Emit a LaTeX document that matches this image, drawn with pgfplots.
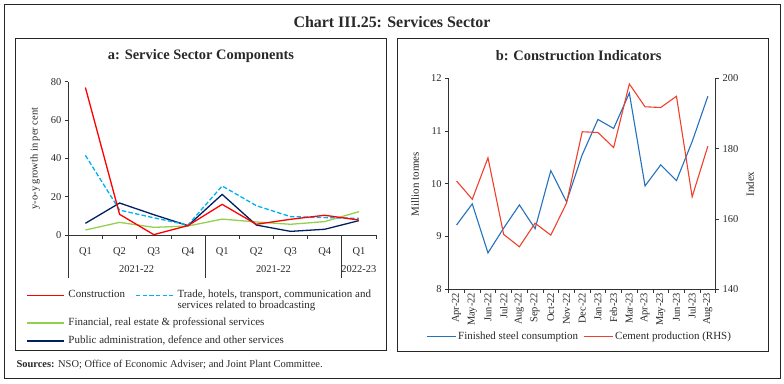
\documentclass[border=0pt]{standalone}
\usepackage{pgfplots}
\pgfplotsset{compat=1.18}
\usepackage{fontspec}
\setmainfont{Liberation Serif}
\definecolor{cRed}{RGB}{255,0,0}
\definecolor{cTrade}{RGB}{0,176,240}
\definecolor{cGreen}{RGB}{146,208,80}
\definecolor{cNavy}{RGB}{0,32,96}
\definecolor{bBlue}{RGB}{36,113,189}
\definecolor{bRed}{RGB}{240,64,44}
\definecolor{txt}{RGB}{40,40,40}
\newcommand{\fs}[1]{\fontsize{#1}{#1}\selectfont}
\pgfplotsset{
  legA/.style={
    at={(68.3bp,-235bp)}, anchor=south west,
    width=307.7bp, height=153.3bp, scale only axis,
    xmin=0, xmax=1, ymin=0, ymax=1, hide axis,
    legend cell align=left,
    legend image code/.code={\draw[##1] (0bp,0bp) -- (37bp,0bp);},
    legend style={at={(rel axis cs:0,0)}, anchor=north west,
      draw=none, fill=none, inner sep=0pt,
      font=\fontsize{11}{11}\selectfont,
      nodes={inner sep=2bp, text depth=},
      row sep=3bp,
      /tikz/every odd column/.append style={column sep=2bp},
      /tikz/every even column/.append style={column sep=6bp}}},
}
\begin{document}
\begin{tikzpicture}[x=1bp,y=1bp]
\useasboundingbox (0,0) rectangle (784,-383);
% frames
\draw[black!85, line width=0.9bp] (4,-4.5) rectangle (780,-378.5);
\draw[black!85, line width=0.9bp] (15,-38) rectangle (386,-350.5);
\draw[black!85, line width=0.9bp] (397.5,-38) rectangle (768,-351);
\node[font=\fs{16}\bfseries, text=txt] at (392,-22.5) {Chart III.25: Services Sector};
\node[font=\fs{14.5}\bfseries, text=txt] at (201,-56) {a: Service Sector Components};
\node[font=\fs{14.5}\bfseries, text=txt] at (578.7,-56) {b: Construction Indicators};
\node[anchor=west, font=\fs{10.5}, text=txt] at (13,-365) {\textbf{Sources:} NSO; Office of Economic Adviser; and Joint Plant Committee.};
\node[rotate=90, font=\fs{10.5}, text=txt] at (35,-158.5) {y-o-y growth in per cent};
\node[rotate=90, font=\fs{11}, text=txt] at (415,-184) {Million tonnes};
\node[rotate=90, font=\fs{11}, text=txt] at (750,-184) {Index};
% group separators and year labels of panel a
\draw[black!80, line width=0.7bp] (68.3,-235) -- (68.3,-278);
\draw[black!80, line width=0.7bp] (205.06,-235) -- (205.06,-278);
\draw[black!80, line width=0.7bp] (341.81,-235) -- (341.81,-278);
\node[font=\fs{10.5}, text=txt] at (136.68,-269) {2021-22};
\node[font=\fs{10.5}, text=txt] at (273.43,-269) {2021-22};
\node[font=\fs{10.5}, text=txt] at (358.91,-269) {2022-23};

% ---------------- panel a ----------------
\begin{axis}[
  at={(68.3bp,-235bp)}, anchor=south west,
  width=307.7bp, height=153.3bp, scale only axis,
  xmin=-0.5, xmax=8.5, ymin=0, ymax=80,
  axis x line*=bottom, axis y line*=left,
  axis line style={-, black!80, line width=0.7bp},
  tick style={black!80, line width=0.7bp},
  tick align=outside, major tick length=3.5bp,
  ytick={0,20,40,60,80},
  xtick={-0.5,0.5,...,8.5}, xticklabels={},
  extra x ticks={0,1,2,3,4,5,6,7,8},
  extra x tick labels={Q1,Q2,Q3,Q4,Q1,Q2,Q3,Q4,Q1},
  extra x tick style={major tick length=0pt, tick label style={yshift=-9bp}},
  ticklabel style={font=\fs{10.5}, text=txt},
  /pgf/number format/assume math mode=true,
  clip=false,
]
\addplot[cGreen, line width=1.3bp, forget plot] coordinates {(0,2.6) (1,6.6) (2,4.0) (3,4.7) (4,8.3) (5,6.8) (6,5.6) (7,7.0) (8,12.2)};
\addplot[cNavy, line width=1.3bp, forget plot] coordinates {(0,6.1) (1,16.7) (2,10.6) (3,4.9) (4,21.2) (5,5.2) (6,1.9) (7,3.0) (8,7.5)};
\addplot[cTrade, line width=1.3bp, dash pattern=on 4.5bp off 2.2bp, forget plot] coordinates {(0,41.6) (1,13) (2,9) (3,5.2) (4,25.6) (5,15.3) (6,9.6) (7,9.1) (8,8.7)};
\addplot[cRed, line width=1.3bp, forget plot] coordinates {(0,77) (1,10.8) (2,0.2) (3,4.9) (4,16) (5,5.6) (6,8.2) (7,10.3) (8,7.8)};
\end{axis}
% legend: Construction
\begin{axis}[legA, legend columns=1,
  legend style={xshift=-42.3bp, yshift=-52.5bp}]
\addlegendimage{draw=cRed, line width=1.3bp}
\addlegendentry{\color{txt}\strut Construction}
\end{axis}
% legend: Trade
\begin{axis}[legA, legend columns=1,
  legend style={xshift=66.7bp, yshift=-52.5bp}]
\addlegendimage{draw=cTrade, line width=1.3bp, dash pattern=on 4.5bp off 2.2bp}
\addlegendentry{\color{txt}\strut\rlap{\raisebox{-11bp}[0pt][0pt]{services related to broadcasting}}Trade, hotels, transport, communication and}
\end{axis}
% legend: Financial and Public
\begin{axis}[legA, legend columns=1,
  legend style={xshift=-42.3bp, yshift=-80.2bp}]
\addlegendimage{draw=cGreen, line width=1.3bp}
\addlegendentry{\color{txt}\strut Financial, real estate \& professional services}
\addlegendimage{draw=cNavy, line width=1.3bp}
\addlegendentry{\color{txt}\strut Public administration, defence and other services}
\end{axis}

% ---------------- panel b ----------------
\begin{axis}[
  at={(448.7bp,-289.3bp)}, anchor=south west,
  width=267bp, height=211bp, scale only axis,
  xmin=-0.5, xmax=16.5, ymin=8, ymax=12,
  axis x line*=bottom, axis y line*=left,
  axis line style={-, black!80, line width=0.7bp},
  tick style={black!80, line width=0.7bp},
  tick align=outside, major tick length=3.5bp,
  ytick={8,9,10,11,12},
  xtick={-0.5,0.5,...,16.5}, xticklabels={},
  extra x ticks={0,1,...,16},
  extra x tick labels={Apr-22,May-22,Jun-22,Jul-22,Aug-22,Sep-22,Oct-22,Nov-22,Dec-22,Jan-23,Feb-23,Mar-23,Apr-23,May-23,Jun-23,Jul-23,Aug-23},
  extra x tick style={major tick length=0pt, tick label style={rotate=90, anchor=east}},
  ticklabel style={font=\fs{10.5}, text=txt},
  /pgf/number format/assume math mode=true,
  clip=false,
  legend columns=2,
  legend image code/.code={\draw[#1] (0bp,0bp) -- (29bp,0bp);},
  legend style={at={(rel axis cs:0.5,0)}, anchor=north,
    xshift=-2.7bp, yshift=-40bp, draw=none, fill=none, inner sep=0pt,
    font=\fs{11},
    /tikz/every even column/.append style={column sep=3bp}},
]
\addplot[bBlue, line width=1.1bp, forget plot] coordinates {(0,9.22) (1,9.62) (2,8.69) (3,9.16) (4,9.6) (5,9.15) (6,10.25) (7,9.66) (8,10.55) (9,11.22) (10,11.05) (11,11.72) (12,9.96) (13,10.36) (14,10.06) (15,10.8) (16,11.66)};
\addlegendimage{draw=bBlue, line width=1.1bp}
\addlegendentry{\color{txt}Finished steel consumption}
\addlegendimage{draw=bRed, line width=1.1bp}
\addlegendentry{\color{txt}Cement production (RHS)}
\end{axis}
\begin{axis}[
  at={(448.7bp,-289.3bp)}, anchor=south west,
  width=267bp, height=211bp, scale only axis,
  xmin=-0.5, xmax=16.5, ymin=140, ymax=200,
  axis x line=none, axis y line*=right,
  axis line style={-, black!80, line width=0.7bp},
  tick style={black!80, line width=0.7bp},
  tick align=outside, major tick length=3.5bp,
  ytick={140,160,180,200},
  ticklabel style={font=\fs{10.5}, text=txt},
  /pgf/number format/assume math mode=true,
]
\addplot[bRed, line width=1.1bp] coordinates {(0,170.8) (1,165.6) (2,177.4) (3,155.6) (4,152.1) (5,158.8) (6,155.4) (7,164.5) (8,184.8) (9,184.6) (10,180.3) (11,198.4) (12,191.9) (13,191.7) (14,194.9) (15,166.3) (16,180.7)};
\end{axis}
\end{tikzpicture}
\end{document}
